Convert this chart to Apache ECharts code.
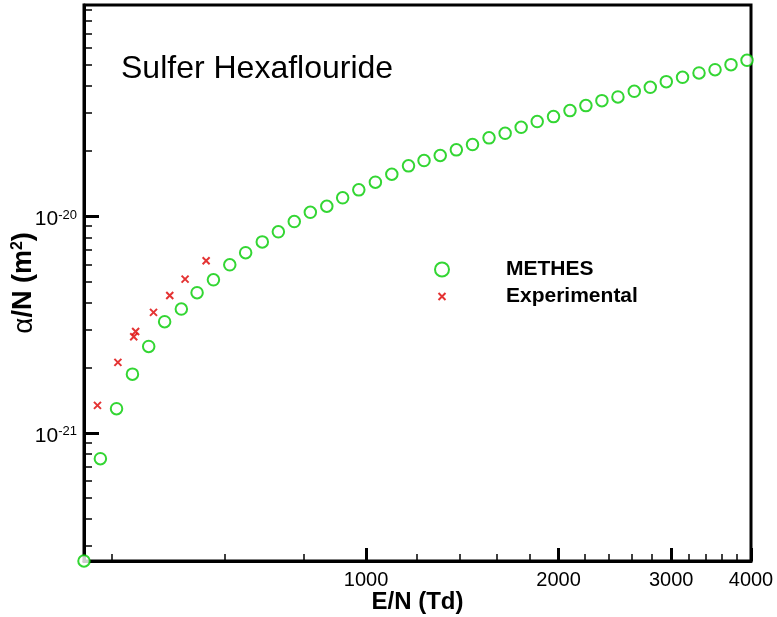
<!DOCTYPE html>
<html>
<head>
<meta charset="utf-8">
<script src="https://cdn.jsdelivr.net/npm/echarts@6/dist/echarts.min.js"></script>
<style>html,body{margin:0;padding:0;background:#fff}#c{width:777px;height:617px}</style>
</head>
<body>
<div id="c"></div>
<script>
// ---- data ----
var methesEN = [362,384,407,431,457,484,514,544,577,612,648,688,729,772,818,868,919,974,1034,1097,1165,1232,1306,1384,1467,1557,1650,1748,1852,1964,2084,2207,2338,2477,2627,2783,2948,3126,3317,3514,3722,3943];
var methesAlpha = [2.56e-22,7.60e-22,1.293e-21,1.867e-21,2.506e-21,3.26e-21,3.73e-21,4.44e-21,5.09e-21,5.97e-21,6.79e-21,7.62e-21,8.48e-21,9.46e-21,1.044e-20,1.113e-20,1.217e-20,1.325e-20,1.437e-20,1.564e-20,1.710e-20,1.81e-20,1.909e-20,2.027e-20,2.144e-20,2.303e-20,2.418e-20,2.577e-20,2.738e-20,2.887e-20,3.077e-20,3.245e-20,3.422e-20,3.559e-20,3.777e-20,3.942e-20,4.188e-20,4.384e-20,4.594e-20,4.757e-20,5.017e-20,5.252e-20];
var expEN = [380,409,433,436,465,493,521,562];
var expAlpha = [1.339e-21,2.115e-21,2.78e-21,2.94e-21,3.60e-21,4.31e-21,5.13e-21,6.23e-21];

var xMajorTicks = [1000,2000,3000,4000];
var xMinorTicks = [400,600,800,1200,1400,1600,1800,2200,2400,2600,2800,3200,3400,3600,3800];
var yMajorTicks = [1e-21,1e-20];
var yMinorTicks = [3e-22,4e-22,5e-22,6e-22,7e-22,8e-22,9e-22,2e-21,3e-21,4e-21,5e-21,6e-21,7e-21,8e-21,9e-21,2e-20,3e-20,4e-20,5e-20,6e-20,7e-20,8e-20,9e-20];
var xMin = 362, xMax = 4000, yMin = 2.56e-22, yMax = 9.46e-20;

var titleText = 'Sulfer Hexaflouride';
var seriesNames = ['METHES','Experimental'];

function pairs(xs, ys){ return xs.map(function(x,i){ return [x, ys[i]]; }); }

var FONT = 'Liberation Sans, Arial, Helvetica, sans-serif';
var xPath = 'path://M0,0L10,10M10,0L0,10';
var xLegendPath = 'path://M0,0M14,14M3.5,3.5L10.5,10.5M10.5,3.5L3.5,10.5';

var chart = echarts.init(document.getElementById('c'), null, {renderer:'canvas'});
chart.setOption({
  animation: false,
  backgroundColor: '#fff',
  title: {
    text: titleText, left: 121, top: 53, padding: 0,
    textStyle: {fontFamily: FONT, fontSize: 32, fontWeight: 'normal', color: '#000'}
  },
  legend: {
    orient: 'vertical', left: 434, top: 259, itemGap: 6,
    itemWidth: 14, itemHeight: 14, padding: 0,
    textStyle: {fontFamily: FONT, fontSize: 21, fontWeight: 'bold', color: '#000', padding: [0,0,0,52]},
    data: [{name: seriesNames[0], icon: 'emptyCircle'}, {name: seriesNames[1], icon: xLegendPath}]
  },
  grid: {left: 84, top: 5, width: 667, height: 556, show: true, borderColor: '#000', borderWidth: 3,
    containLabel: false, outerBoundsMode: 'none'},
  xAxis: [{
    type: 'log', min: xMin, max: xMax, position: 'bottom',
    name: 'E/N (Td)', nameLocation: 'middle', nameGap: 29, nameMoveOverlap: false,
    nameTextStyle: {fontFamily: FONT, fontSize: 24, fontWeight: 'bold', color: '#000'},
    axisLine: {show: true, onZero: false, lineStyle: {color: '#000', width: 3}},
    axisTick: {show: true, inside: true, length: 13, customValues: xMajorTicks, lineStyle: {color: '#000', width: 3}},
    axisLabel: {customValues: xMajorTicks, margin: 9, fontFamily: FONT, fontSize: 20, color: '#000',
      formatter: function(v){ return String(Math.round(v)); }},
    splitLine: {show: false}, minorTick: {show: false}
  },{
    type: 'log', min: xMin, max: xMax, position: 'bottom',
    axisLine: {show: false, onZero: false},
    axisTick: {show: true, inside: true, length: 7, customValues: xMinorTicks, lineStyle: {color: '#000', width: 1.5}},
    axisLabel: {show: false}, splitLine: {show: false}
  }],
  yAxis: [{
    type: 'log', min: yMin, max: yMax, position: 'left',
    name: '{a|α}{b|/N (m}{s|2}{b|)}', nameLocation: 'middle', nameGap: 46, nameRotate: 90, nameMoveOverlap: false,
    nameTextStyle: {rich: {
      a: {fontFamily: FONT, fontSize: 28, color: '#000'},
      b: {fontFamily: FONT, fontSize: 27, fontWeight: 'bold', color: '#000'},
      s: {fontFamily: FONT, fontSize: 16, fontWeight: 'bold', color: '#000', verticalAlign: 'top'}
    }},
    axisLine: {show: true, onZero: false, lineStyle: {color: '#000', width: 3}},
    axisTick: {show: true, inside: true, length: 15, customValues: yMajorTicks, lineStyle: {color: '#000', width: 3}},
    axisLabel: {customValues: yMajorTicks, margin: 7, padding: [6,0,0,0],
      formatter: function(v){ return '{b|10}{s|' + Math.round(Math.log10(v)) + '}'; },
      rich: {
        b: {fontFamily: FONT, fontSize: 21, color: '#000'},
        s: {fontFamily: FONT, fontSize: 13, color: '#000', verticalAlign: 'top'}
      }},
    splitLine: {show: false}, minorTick: {show: false}
  },{
    type: 'log', min: yMin, max: yMax, position: 'left',
    axisLine: {show: false, onZero: false},
    axisTick: {show: true, inside: true, length: 8, customValues: yMinorTicks, lineStyle: {color: '#000', width: 1.5}},
    axisLabel: {show: false}, splitLine: {show: false}
  }],
  series: [{
    name: seriesNames[0], type: 'scatter', xAxisIndex: 0, yAxisIndex: 0, clip: false,
    symbol: 'emptyCircle', symbolSize: 11.5,
    itemStyle: {color: '#00cc00', borderColor: '#00cc00', borderWidth: 2.5},
    data: pairs(methesEN, methesAlpha), z: 5
  },{
    name: seriesNames[1], type: 'scatter', xAxisIndex: 0, yAxisIndex: 0, clip: false,
    symbol: xPath, symbolSize: 7,
    itemStyle: {color: 'rgba(0,0,0,0)', borderColor: '#dd0000', borderWidth: 2},
    data: pairs(expEN, expAlpha), z: 6
  }]
});
</script>
</body>
</html>
